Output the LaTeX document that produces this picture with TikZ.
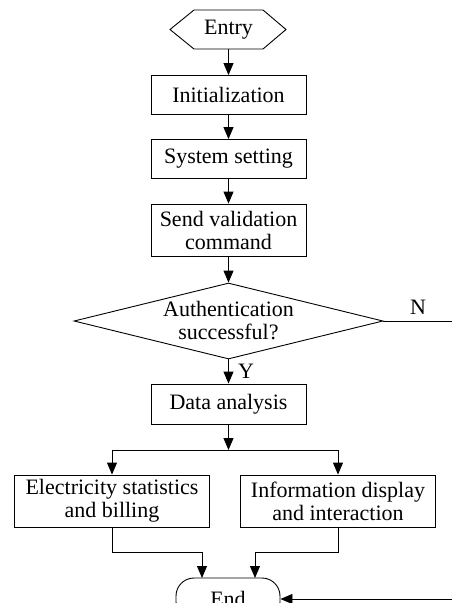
\documentclass[tikz,border=0pt]{standalone}
\usepackage{fontspec}
\setmainfont{Liberation Serif}
\usetikzlibrary{arrows.meta,shapes.geometric}
\begin{document}
\begin{tikzpicture}[x=1pt,y=-1pt,
  font=\fontsize{22}{23}\selectfont,
  line width=0.9pt,
  flow/.style={-{Triangle[length=12pt,width=10pt]}},
  box/.style={draw,rectangle,minimum width=155pt,minimum height=39pt,inner sep=0pt,align=center},
  box2/.style={draw,rectangle,minimum width=195pt,minimum height=52pt,inner sep=0pt,align=center},
  lbl/.style={inner sep=0pt}]
\useasboundingbox (0,0) rectangle (452,603);

% start terminal (hexagon)
\draw (170,29.5) -- (194,10) -- (263,10) -- (286,29.5) -- (263,49) -- (194,49) -- cycle;
\node (entry) at (228.5,29.5) [minimum width=116pt,minimum height=39pt,inner sep=0pt] {Entry};

\node[box] (init) at (228.5,95) {Initialization};
\node[box] (sys) at (228.5,159) {System setting};
\node[box,minimum height=52pt] (send) at (228.5,230) {Send validation\\command};
\node[draw,diamond,aspect=4.07,minimum width=309pt,minimum height=76pt,inner sep=0pt,align=center] (auth) at (228.5,321)
  {Authentication\\successful?};
\node[box,minimum height=40pt] (data) at (228.5,404) {Data analysis};
\node[box2] (bill) at (112,501) {Electricity statistics\\and billing};
\node[box2] (info) at (338,501) {Information display\\and interaction};
\node[draw,rectangle,rounded corners=18pt,minimum width=104pt,minimum height=42pt,inner sep=0pt] (end) at (228,599) {End};

% branch points and free ends
\coordinate (split) at (228.5,450);
\coordinate (nout) at (452,321);
\coordinate (back) at (452,599);

\draw[flow] (entry.south) -- (init.north);
\draw[flow] (init) -- (sys);
\draw[flow] (sys) -- (send);
\draw[flow] (send) -- (auth.north);
\draw[flow] (auth.south) -- (data.north);
\draw (auth.east) -- (nout);
\draw[flow] (data.south) -- (split);
\draw (split -| bill.north) -- (split -| info.north);
\draw[flow] (split -| bill.north) -- (bill.north);
\draw[flow] (split -| info.north) -- (info.north);
\draw[flow] (bill.south) -- (112,552) -| (202,578);
\draw[flow] (info.south) -- (338,552) -| (255,578);
\draw[flow] (back) -- (end.east);

\node[lbl] (nlbl) at (418,307) {N};
\node[lbl] (ylbl) at (246,371) {Y};
\end{tikzpicture}
\end{document}
